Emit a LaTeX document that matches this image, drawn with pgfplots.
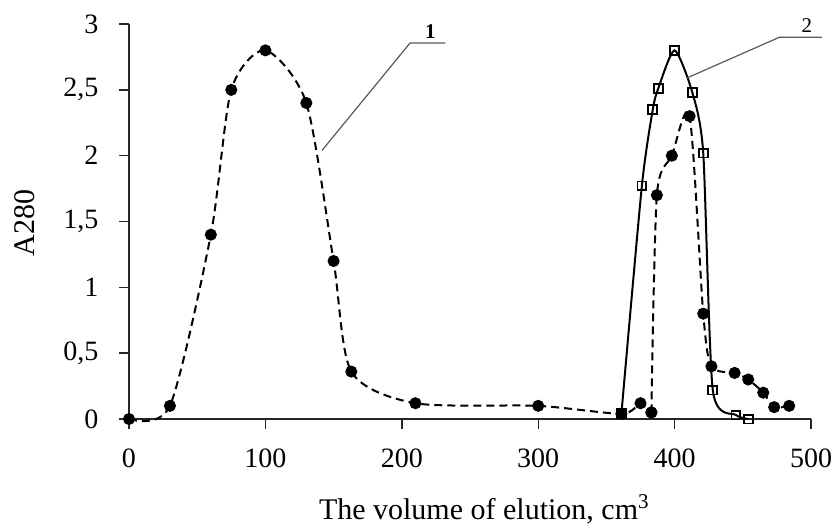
\documentclass[border=0pt]{standalone}
\usepackage{fontspec}
\setmainfont{Liberation Serif}
\usepackage{pgfplots}
\pgfplotsset{compat=1.18}
\definecolor{leader}{HTML}{595959}
\begin{document}
\begin{tikzpicture}[font=\fontsize{14}{16}\selectfont]
\begin{axis}[
  scale only axis, width=341pt, height=197.5pt,
  xmin=0, xmax=500, ymin=0, ymax=3,
  axis lines=left,
  axis line style={-, line width=0.7pt, black!85},
  xtick={0,100,200,300,400,500},
  ytick={0,0.5,1,1.5,2,2.5,3},
  tick align=outside, major tick length=4.75pt,
  tick style={line width=0.7pt, black!85},
  /pgf/number format/assume math mode=true,
  /pgf/number format/use comma,
  xticklabel style={yshift=-6.5pt},
  yticklabel style={xshift=-7pt},
  xlabel={The volume of elution, cm\textsuperscript{3}},
  ylabel={A280},
  label style={font=\fontsize{15}{17}\selectfont},
  xlabel style={at={(axis description cs:0.521,-0.2287)}, anchor=center},
  ylabel style={at={(axis description cs:-0.1525,0.496)}, anchor=center},
  clip=false,
  s2/.style={black, line width=1pt, smooth, tension=0.4,
    mark=square, mark size=2.2pt, mark options={solid, line width=0.9pt, fill=white}},
  s1/.style={black, line width=1pt, dash pattern=on 4pt off 2.5pt, smooth, tension=0.45,
    mark=*, mark size=2.5pt, mark options={solid}},
]
% series 2 (solid, open squares)
\addplot[s2] coordinates {
  (361,0.04) (376,1.77) (384,2.35) (388,2.51) (400,2.8) (413,2.48)
  (421,2.02) (428,0.22) (445,0.03) (454,0.0)
  };
% series 1 (dashed, filled circles)
\addplot[s1] coordinates {
  (0,0) (30,0.1) (60,1.4) (75,2.5) (100,2.8) (130,2.4) (150,1.2) (163,0.36)
  (210,0.12) (300,0.1) (361,0.04) (375,0.12) (383,0.05)
  };
\addplot[s1] coordinates {
  (383,0.05) (387,1.7) (398,2.0)
  (411,2.3) (421,0.8) (427,0.4) (444,0.35) (454,0.3) (465,0.2) (473,0.09) (484,0.1)
  };
% leader lines and labels
\draw[leader, line width=0.6pt] (axis cs:141.5,2.04) -- (axis cs:206,2.855) -- (axis cs:232,2.855);
\node[font=\fontsize{10.5}{12}\selectfont\bfseries, anchor=south, inner sep=1pt] at (axis cs:221,2.87) {1};
\draw[leader, line width=0.6pt] (axis cs:409,2.59) -- (axis cs:477,2.90) -- (axis cs:508,2.90);
\node[font=\fontsize{10.5}{12}\selectfont, anchor=south, inner sep=1pt] at (axis cs:497,2.915) {2};
\end{axis}
\pgfresetboundingbox
\path (current axis.south west) ++(-64.5pt,-53.5pt) rectangle ++(417pt,263pt);
\end{tikzpicture}
\end{document}
